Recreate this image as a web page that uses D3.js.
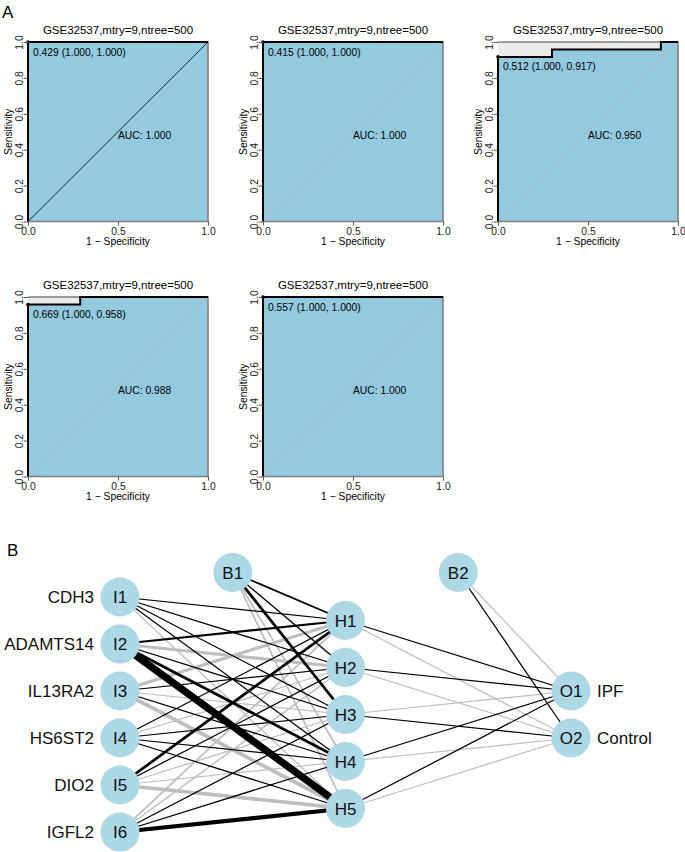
<!DOCTYPE html>
<html>
<head>
<meta charset="utf-8">
<script src="https://cdn.jsdelivr.net/npm/d3@7"></script>
<style>
  html, body { margin: 0; padding: 0; background: #fff; }
  svg { display: block; font-family: "Liberation Sans", Arial, sans-serif; }
</style>
</head>
<body>
<svg id="chart" width="685" height="852"></svg>
<script>
// ---------------- Panel A data ----------------
const panelTitles = [
  "GSE32537,mtry=9,ntree=500",
  "GSE32537,mtry=9,ntree=500",
  "GSE32537,mtry=9,ntree=500",
  "GSE32537,mtry=9,ntree=500",
  "GSE32537,mtry=9,ntree=500"
];
// ROC curves as [1 - specificity, sensitivity]
const rocCurve1 = [[0, 0], [0, 1], [1, 1]];
const rocCurve2 = [[0, 0], [0, 1], [1, 1]];
const rocCurve3 = [[0, 0], [0, 0.917], [0.30, 0.917], [0.30, 0.958], [0.905, 0.958], [0.905, 1], [1, 1]];
const rocCurve4 = [[0, 0], [0, 0.958], [0.29, 0.958], [0.29, 1], [1, 1]];
const rocCurve5 = [[0, 0], [0, 1], [1, 1]];
const rocCurves = [rocCurve1, rocCurve2, rocCurve3, rocCurve4, rocCurve5];
const aucLabels = ["AUC: 1.000", "AUC: 1.000", "AUC: 0.950", "AUC: 0.988", "AUC: 1.000"];
const thresholdPoints = [[0, 1], [0, 1], [0, 0.917], [0, 0.958], [0, 1]];
const thresholdLabels = [
  "0.429 (1.000, 1.000)",
  "0.415 (1.000, 1.000)",
  "0.512 (1.000, 0.917)",
  "0.669 (1.000, 0.958)",
  "0.557 (1.000, 1.000)"
];
const xTicks = [0, 0.5, 1];
const yTicks = [0, 0.2, 0.4, 0.6, 0.8, 1];
const xAxisTitle = "1 \u2212 Specificity";
const yAxisTitle = "Sensitivity";

// ---------------- Panel B data ----------------
const inputNodes = ["I1", "I2", "I3", "I4", "I5", "I6"];
const inputNames = ["CDH3", "ADAMTS14", "IL13RA2", "HS6ST2", "DIO2", "IGFL2"];
const hiddenNodes = ["H1", "H2", "H3", "H4", "H5"];
const outputNodes = ["O1", "O2"];
const outputNames = ["IPF", "Control"];
const biasNodes = ["B1", "B2"];
// weights: rows = inputs, cols = hidden (sign: + black, - gray)
const weightsInputHidden = [
  [1.0, 1.0, 1.0, 1.0, -1.0],
  [2.0, -3.0, 1.0, 2.5, 7.0],
  [-3.0, 1.0, -1.0, 1.0, -3.5],
  [1.0, -1.0, 1.0, 1.0, 1.0],
  [2.5, 1.0, -1.0, -1.0, -3.5],
  [-1.5, -1.2, 1.0, 1.0, 4.0]
];
const weightsBias1Hidden = [1.5, 1.2, 2.5, -1.5, -1.5];
// rows = hidden, cols = outputs
const weightsHiddenOutput = [
  [1.0, -1.0],
  [1.0, -1.0],
  [-1.0, 1.0],
  [1.0, -1.0],
  [1.0, -1.0]
];
const weightsBias2Output = [-1.0, 1.0];

// ---------------- Drawing ----------------
const svg = d3.select("#chart");
const FONT = "Liberation Sans, Arial, sans-serif";

svg.append("text").attr("x", 2).attr("y", 18).attr("font-size", 17).text("A");

const panelOrigins = [[28, 42], [263, 42], [498, 42], [28, 297], [263, 297]];
const PW = 180, PH = 179.5;

rocCurves.forEach((curve, i) => {
  const [ox, oy] = panelOrigins[i];
  const x = d3.scaleLinear().domain([0, 1]).range([ox, ox + PW]);
  const y = d3.scaleLinear().domain([0, 1]).range([oy + PH, oy]);
  const g = svg.append("g");

  // max AUC polygon (gray)
  g.append("path")
    .attr("d", d3.line().x(d => x(d[0])).y(d => y(d[1]))([[0, 0], [0, 1], [1, 1], [1, 0], [0, 0]]))
    .attr("fill", "#ebebeb").attr("stroke", "none");
  // AUC polygon (blue)
  g.append("path")
    .attr("d", d3.area().x(d => x(d[0])).y0(y(0)).y1(d => y(d[1]))(curve))
    .attr("fill", "#93cadf").attr("stroke", "none");
  // outline of max polygon (right & bottom gray)
  g.append("path")
    .attr("d", d3.line().x(d => x(d[0])).y(d => y(d[1]))([[0, 1], [1, 1], [1, 0], [0, 0]]))
    .attr("fill", "none").attr("stroke", "#7f7f7f").attr("stroke-width", 1.6);

  // diagonal
  g.append("path")
    .attr("d", d3.line().x(d => x(d[0])).y(d => y(d[1]))([[0, 0], [1, 1]]))
    .attr("stroke", i === 0 ? "#111" : "#b4b4b4")
    .attr("stroke-width", i === 0 ? 0.9 : 1).attr("fill", "none");

  // ROC curve
  g.append("path")
    .attr("d", d3.line().x(d => x(d[0])).y(d => y(d[1]))(curve))
    .attr("fill", "none").attr("stroke", "#000").attr("stroke-width", 2);

  // threshold point + label
  const tp = thresholdPoints[i];
  g.append("circle").attr("cx", x(tp[0])).attr("cy", y(tp[1])).attr("r", 1.8).attr("fill", "#000");
  g.append("text").attr("x", x(tp[0]) + 5).attr("y", y(tp[1]) + 13.5)
    .attr("font-size", 10.3).attr("fill", "#000").text(thresholdLabels[i]);

  // AUC text
  g.append("text").attr("x", x(0.5)).attr("y", y(0.5) + 7)
    .attr("font-size", 10.3).attr("fill", "#000").text(aucLabels[i]);

  // axes
  const xAxis = g.append("g").attr("transform", `translate(0,${oy + PH})`)
    .call(d3.axisBottom(x).tickValues(xTicks).tickFormat(d3.format(".1f")).tickSize(4).tickSizeOuter(0).tickPadding(2));
  xAxis.select(".domain").remove();
  xAxis.selectAll(".tick line").attr("stroke", "#555");
  xAxis.selectAll("text").attr("font-size", 10.3).attr("font-family", FONT).attr("fill", "#222");

  const yAxis = g.append("g").attr("transform", `translate(${ox},0)`)
    .call(d3.axisLeft(y).tickValues(yTicks).tickFormat(d3.format(".1f")).tickSize(4).tickSizeOuter(0));
  yAxis.select(".domain").remove();
  yAxis.selectAll(".tick line").attr("stroke", "#555");
  yAxis.selectAll("text")
    .attr("transform", "rotate(-90)")
    .attr("x", 0).attr("y", -5.5).attr("dy", "0")
    .attr("text-anchor", "middle")
    .attr("font-size", 10.3).attr("font-family", FONT).attr("fill", "#222");

  // titles
  g.append("text").attr("x", x(0.5)).attr("y", oy - 8)
    .attr("text-anchor", "middle").attr("font-size", 11.5).text(panelTitles[i]);
  g.append("text").attr("x", x(0.5)).attr("y", oy + PH + 23.5)
    .attr("text-anchor", "middle").attr("font-size", 10.3).text(xAxisTitle);
  g.append("text").attr("transform", `translate(${ox - 16.5},${y(0.5)}) rotate(-90)`)
    .attr("text-anchor", "middle").attr("font-size", 10.3).text(yAxisTitle);
});

// ---------------- Panel B ----------------
svg.append("text").attr("x", 7).attr("y", 556).attr("font-size", 17).text("B");

const layerX = d3.scaleLinear().domain([0, 2]).range([120, 571]);
const nodeY = d3.scaleLinear().domain([-2.5, 2.5]).range([597, 832]); // centered index, spacing 47
const centered = (i, n) => i - (n - 1) / 2;
const biasY = 572.5;

const inPos = inputNodes.map((d, i) => [layerX(0), nodeY(centered(i, inputNodes.length))]);
const hidPos = hiddenNodes.map((d, i) => [layerX(1), nodeY(centered(i, hiddenNodes.length))]);
const outPos = outputNodes.map((d, i) => [layerX(2), nodeY(centered(i, outputNodes.length))]);
const biasPos = [[(layerX(0) + layerX(1)) / 2, biasY], [(layerX(1) + layerX(2)) / 2, biasY]];

const widthScale = d3.scaleLinear().domain([0, 7]).range([0.25, 7.2]);
const edges = [];
weightsInputHidden.forEach((row, i) => row.forEach((w, j) => edges.push({ a: inPos[i], b: hidPos[j], w })));
weightsBias1Hidden.forEach((w, j) => edges.push({ a: biasPos[0], b: hidPos[j], w }));
weightsHiddenOutput.forEach((row, i) => row.forEach((w, j) => edges.push({ a: hidPos[i], b: outPos[j], w })));
weightsBias2Output.forEach((w, j) => edges.push({ a: biasPos[1], b: outPos[j], w }));

// draw gray edges first then black
const sorted = edges.slice().sort((p, q) => (p.w > 0) - (q.w > 0));
svg.append("g").selectAll("line").data(sorted).join("line")
  .attr("x1", d => d.a[0]).attr("y1", d => d.a[1])
  .attr("x2", d => d.b[0]).attr("y2", d => d.b[1])
  .attr("stroke", d => d.w > 0 ? "#000" : "#bebebe")
  .attr("stroke-width", d => widthScale(Math.abs(d.w)));

const allNodes = [
  ...inputNodes.map((n, i) => ({ n, p: inPos[i] })),
  ...hiddenNodes.map((n, i) => ({ n, p: hidPos[i] })),
  ...outputNodes.map((n, i) => ({ n, p: outPos[i] })),
  ...biasNodes.map((n, i) => ({ n, p: biasPos[i] }))
];
const ng = svg.append("g");
ng.selectAll("circle").data(allNodes).join("circle")
  .attr("cx", d => d.p[0]).attr("cy", d => d.p[1]).attr("r", 19.5)
  .attr("fill", "#add8e6");
ng.selectAll("text").data(allNodes).join("text")
  .attr("x", d => d.p[0]).attr("y", d => d.p[1]).attr("dy", "0.36em")
  .attr("text-anchor", "middle").attr("font-size", 17).attr("fill", "#111").text(d => d.n);

svg.append("g").selectAll("text").data(inputNames).join("text")
  .attr("x", 94).attr("y", (d, i) => inPos[i][1]).attr("dy", "0.36em")
  .attr("text-anchor", "end").attr("font-size", 17).attr("fill", "#111").text(d => d);
svg.append("g").selectAll("text").data(outputNames).join("text")
  .attr("x", 597).attr("y", (d, i) => outPos[i][1]).attr("dy", "0.36em")
  .attr("text-anchor", "start").attr("font-size", 17).attr("fill", "#111").text(d => d);
</script>
</body>
</html>
